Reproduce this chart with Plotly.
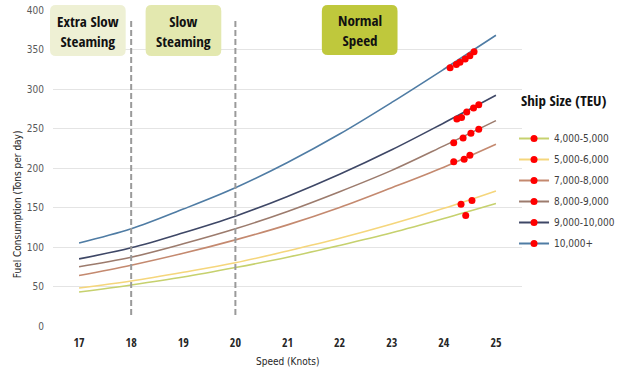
import plotly.graph_objects as go

speeds = [17, 18, 19, 20, 21, 22, 23, 24, 25]

series_names = ["4,000-5,000", "5,000-6,000", "7,000-8,000", "8,000-9,000", "9,000-10,000", "10,000+"]
fuel_4k_5k = [43, 52, 62, 74, 87, 102, 118, 136, 155]
fuel_5k_6k = [48, 57, 68, 80, 95, 111, 129, 149, 171]
fuel_7k_8k = [64, 77, 92, 109, 128, 150, 175, 201, 230]
fuel_8k_9k = [75, 87, 104, 123, 145, 170, 197, 228, 260]
fuel_9k_10k = [85, 99, 118, 139, 164, 192, 223, 257, 292]
fuel_10k_plus = [105, 123, 148, 175, 207, 243, 283, 325, 368]

# observed (red) points per series
obs_speed_4k_5k = [24.42]
obs_fuel_4k_5k = [140]
obs_speed_5k_6k = [24.33, 24.54]
obs_fuel_5k_6k = [154, 159]
obs_speed_7k_8k = [24.19, 24.39, 24.50]
obs_fuel_7k_8k = [208, 211, 216]
obs_speed_8k_9k = [24.19, 24.37, 24.52, 24.67]
obs_fuel_8k_9k = [232, 238, 244, 249]
obs_speed_9k_10k = [24.25, 24.34, 24.44, 24.57, 24.67]
obs_fuel_9k_10k = [262, 264, 271, 276, 280]
obs_speed_10k_plus = [24.12, 24.24, 24.31, 24.41, 24.50, 24.58]
obs_fuel_10k_plus = [327, 331, 334, 338, 342, 347]

phase_labels = ["Extra Slow<br>Steaming", "Slow<br>Steaming", "Normal<br>Speed"]
phase_bounds = [18, 20]

colors = ["#c6d16e", "#f5d67c", "#c4896f", "#9c7b6d", "#3e4766", "#4f7ca4"]
curves = [fuel_4k_5k, fuel_5k_6k, fuel_7k_8k, fuel_8k_9k, fuel_9k_10k, fuel_10k_plus]
obs_x = [obs_speed_4k_5k, obs_speed_5k_6k, obs_speed_7k_8k, obs_speed_8k_9k, obs_speed_9k_10k, obs_speed_10k_plus]
obs_y = [obs_fuel_4k_5k, obs_fuel_5k_6k, obs_fuel_7k_8k, obs_fuel_8k_9k, obs_fuel_9k_10k, obs_fuel_10k_plus]

BOLD = "Open Sans Condensed, DejaVu Sans Condensed, sans-serif"
THIN = "DejaVu Sans Condensed, sans-serif"

fig = go.Figure()
for name, col, ys, ox, oy in zip(series_names, colors, curves, obs_x, obs_y):
    fig.add_trace(go.Scatter(x=speeds, y=ys, mode="lines", name=name,
                             line=dict(color=col, width=1.6, shape="spline"),
                             legendgroup=name, showlegend=False))
    fig.add_trace(go.Scatter(x=ox, y=oy, mode="markers", name=name,
                             marker=dict(color="#ff0000", size=7),
                             legendgroup=name, showlegend=False))
    fig.add_trace(go.Scatter(x=[None], y=[None], mode="lines+markers", name=name,
                             line=dict(color=col, width=2),
                             marker=dict(color="#ff0000", size=7),
                             legendgroup=name, showlegend=True))

for b in phase_bounds:
    fig.add_shape(type="line", xref="x", yref="y", x0=b, x1=b, y0=14, y1=390,
                  line=dict(color="#9a9a9a", width=2, dash="6px,3px"))

W, H = 630, 392
L, R, T, B = 53, 106, 10, 66
pw, ph = W - L - R, H - T - B


def px2paper(px, py):
    return (px - L) / pw, (H - B - py) / ph


def rounded(x0, y0, x1, y1, r):
    def p(x, y):
        a, b = px2paper(x, y)
        return f"{a:.5f},{b:.5f}"
    return (f"M {p(x0 + r, y0)} L {p(x1 - r, y0)} Q {p(x1, y0)} {p(x1, y0 + r)} "
            f"L {p(x1, y1 - r)} Q {p(x1, y1)} {p(x1 - r, y1)} L {p(x0 + r, y1)} "
            f"Q {p(x0, y1)} {p(x0, y1 - r)} L {p(x0, y0 + r)} Q {p(x0, y0)} {p(x0 + r, y0)} Z")


boxes = [(50, 5, 126, 56, "#eef0d4"), (146, 5, 222, 56, "#e3e8af"), (323, 5, 399, 55, "#bfc83c")]
for (x0, y0, x1, y1, fc), lab in zip(boxes, phase_labels):
    fig.add_shape(type="path", xref="paper", yref="paper", path=rounded(x0, y0, x1, y1, 6),
                  fillcolor=fc, line=dict(width=0), layer="above")
    cx, cy = px2paper((x0 + x1) / 2, (y0 + y1) / 2)
    fig.add_annotation(x=cx, y=cy, xref="paper", yref="paper", text=lab, xanchor="center", yanchor="middle",
                       showarrow=False, font=dict(family=BOLD, size=15, color="#111111", weight="bold"),
                       align="center")

tx, ty = px2paper(566, 100)
fig.add_annotation(x=tx, y=ty, xref="paper", yref="paper", text="Ship Size (TEU)", xanchor="center",
                   yanchor="middle", showarrow=False,
                   font=dict(family=BOLD, size=15, color="#111111", weight="bold"))

ax, ay = px2paper(18, 204)
fig.add_annotation(x=ax, y=ay, xref="paper", yref="paper", text="Fuel Consumption (Tons per day)",
                   xanchor="center", yanchor="middle",
                   textangle=-90, showarrow=False, font=dict(family=THIN, size=10, color="#262626"))
bx, by = px2paper(288, 361)
fig.add_annotation(x=bx, y=by, xref="paper", yref="paper", text="Speed (Knots)", xanchor="center",
                   yanchor="middle", showarrow=False, font=dict(family=THIN, size=10, color="#262626"))

lx, ly = px2paper(516, 124)
fig.update_layout(
    width=W, height=H,
    margin=dict(l=L, r=R, t=T, b=B),
    paper_bgcolor="white", plot_bgcolor="white",
    font=dict(family=THIN, color="#404040"),
    showlegend=True,
    legend=dict(x=lx, y=ly, xanchor="left", yanchor="top", font=dict(family=THIN, size=10, color="#404040"),
                bgcolor="rgba(0,0,0,0)", tracegroupgap=2, itemwidth=30),
    xaxis=dict(range=[16.5, 25.5], tickvals=speeds, showgrid=False, zeroline=False, automargin=False,
               showline=False, ticks="", ticklabelstandoff=8,
               tickfont=dict(family=BOLD, size=12, color="#262626")),
    yaxis=dict(range=[0, 400], dtick=50, showgrid=True, gridcolor="#e4e4e4", gridwidth=1, automargin=False,
               zeroline=False, showline=False, ticks="", ticklabelstandoff=8,
               tickfont=dict(family=THIN, size=10, color="#595959")),
)

fig.write_html("out.html", config={"displayModeBar": False},
               post_script="document.body.style.margin='0';document.body.style.overflow='hidden';")
